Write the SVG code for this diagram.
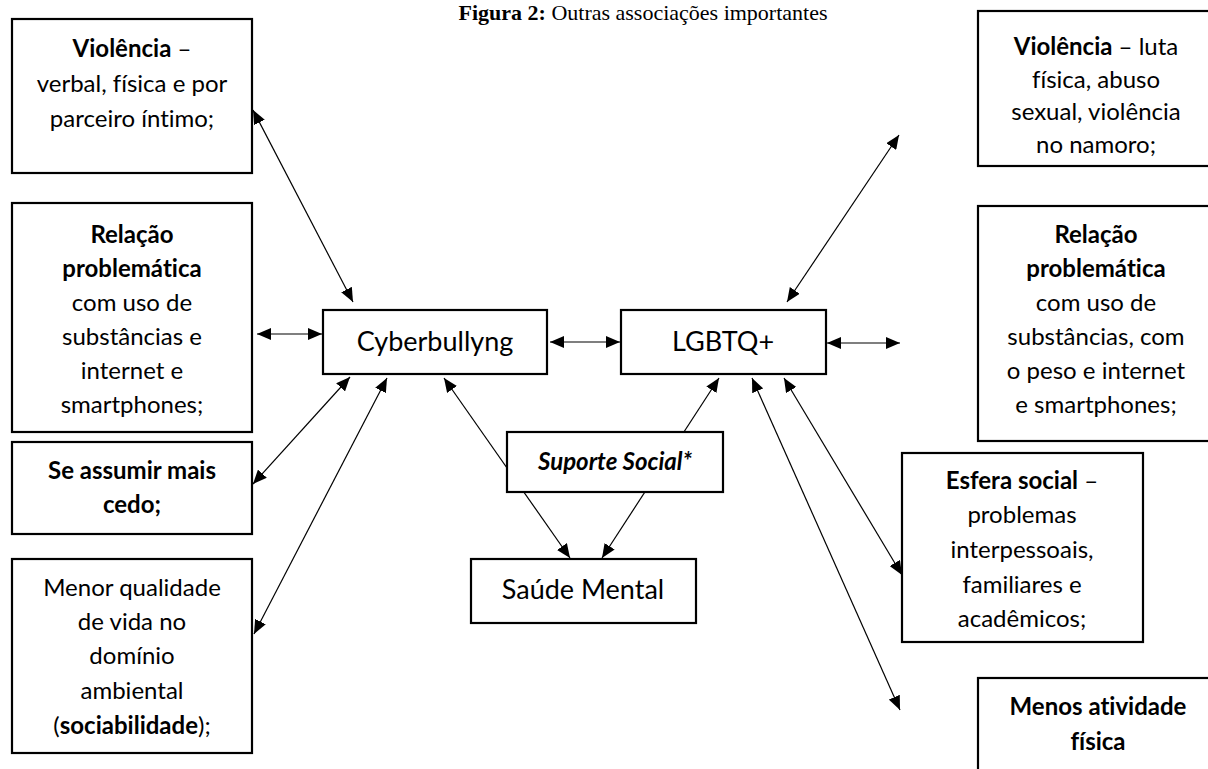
<svg xmlns="http://www.w3.org/2000/svg" width="1208" height="769" viewBox="0 0 1208 769">
<defs>
<marker id="ah" viewBox="0 0 14 12" refX="14" refY="6" markerWidth="14" markerHeight="12" markerUnits="userSpaceOnUse" orient="auto-start-reverse">
<path d="M0,0 L14,6 L0,12 Z" fill="#000"/>
</marker>
<style>
.box{fill:#fff;stroke:#000;stroke-width:2.2}
.t{font-family:Lato,"Liberation Sans",sans-serif;font-size:24px;fill:#000;text-anchor:middle;font-variant-ligatures:none}
.big{font-size:27px}
.b{font-weight:bold}
.c{stroke:#000;stroke-width:1.2;fill:none;marker-start:url(#ah);marker-end:url(#ah)}
.title{font-family:"Liberation Serif",serif;font-size:22px;fill:#000;text-anchor:middle}
</style>
</defs>
<rect width="1208" height="769" fill="#fff"/>
<text class="title" x="643" y="20"><tspan font-weight="bold">Figura 2:</tspan> Outras associações importantes</text>
<g id="connectors">
<line class="c" x1="253" y1="110" x2="353" y2="302"/>
<line class="c" x1="257" y1="334" x2="322" y2="334"/>
<line class="c" x1="350" y1="377" x2="253" y2="484"/>
<line class="c" x1="387" y1="378" x2="254" y2="634"/>
<line class="c" x1="550" y1="342" x2="620" y2="342"/>
<line class="c" x1="787" y1="302" x2="899" y2="135"/>
<line class="c" x1="827" y1="343" x2="900" y2="343"/>
<line class="c" x1="784" y1="378" x2="902" y2="575"/>
<line class="c" x1="752" y1="378" x2="900" y2="710"/>
<line class="c" x1="444" y1="378" x2="570" y2="558"/>
<line class="c" x1="719" y1="378" x2="602" y2="558"/>
</g>
<g id="n-violencia-l"><rect class="box" x="12" y="19" width="240" height="154"/>
<text class="t" x="132" y="57"><tspan class="b">Violência</tspan> –</text>
<text class="t" x="132" y="92">verbal, física e por</text>
<text class="t" x="132" y="127">parceiro íntimo;</text></g>
<g id="n-relacao-l"><rect class="box" x="12" y="203" width="240" height="229"/>
<text class="t b" x="132" y="243">Relação</text>
<text class="t b" x="132" y="277">problemática</text>
<text class="t" x="132" y="311">com uso de</text>
<text class="t" x="132" y="345">substâncias e</text>
<text class="t" x="132" y="379">internet e</text>
<text class="t" x="132" y="413">smartphones;</text></g>
<g id="n-assumir"><rect class="box" x="12" y="442" width="240" height="92"/>
<text class="t b" x="132" y="479">Se assumir mais</text>
<text class="t b" x="132" y="513">cedo;</text></g>
<g id="n-menor"><rect class="box" x="12" y="559" width="240" height="194"/>
<text class="t" x="132" y="596">Menor qualidade</text>
<text class="t" x="132" y="630">de vida no</text>
<text class="t" x="132" y="664">domínio</text>
<text class="t" x="132" y="699">ambiental</text>
<text class="t" x="132" y="734">(<tspan class="b">sociabilidade</tspan>);</text></g>
<g id="n-cyber"><rect class="box" x="323" y="310" width="224" height="64"/>
<text class="t big" x="435" y="351">Cyberbullyng</text></g>
<g id="n-lgbtq"><rect class="box" x="621" y="310" width="205" height="64"/>
<text class="t big" x="723" y="351">LGBTQ+</text></g>
<g id="n-suporte"><rect class="box" x="507" y="432" width="216" height="60"/>
<text class="t b" x="615" y="470" font-size="26" font-style="italic">Suporte Social*</text></g>
<g id="n-saude"><rect class="box" x="471" y="559" width="225" height="64"/>
<text class="t big" x="583" y="599">Saúde Mental</text></g>
<g id="n-violencia-r"><rect class="box" x="978" y="11" width="240" height="155"/>
<text class="t" x="1096" y="55"><tspan class="b">Violência</tspan> – luta</text>
<text class="t" x="1096" y="88">física, abuso</text>
<text class="t" x="1096" y="120">sexual, violência</text>
<text class="t" x="1096" y="153">no namoro;</text></g>
<g id="n-relacao-r"><rect class="box" x="978" y="206" width="240" height="235"/>
<text class="t b" x="1096" y="243">Relação</text>
<text class="t b" x="1096" y="277">problemática</text>
<text class="t" x="1096" y="311">com uso de</text>
<text class="t" x="1096" y="345">substâncias, com</text>
<text class="t" x="1096" y="379">o peso e internet</text>
<text class="t" x="1096" y="413">e smartphones;</text></g>
<g id="n-esfera"><rect class="box" x="902" y="453" width="241" height="189"/>
<text class="t" x="1022" y="489"><tspan class="b">Esfera social</tspan> –</text>
<text class="t" x="1022" y="523">problemas</text>
<text class="t" x="1022" y="558">interpessoais,</text>
<text class="t" x="1022" y="593">familiares e</text>
<text class="t" x="1022" y="627">acadêmicos;</text></g>
<g id="n-menos"><rect class="box" x="978" y="678" width="240" height="110"/>
<text class="t b" x="1098" y="715">Menos atividade</text>
<text class="t b" x="1098" y="750">física</text></g>
</svg>
